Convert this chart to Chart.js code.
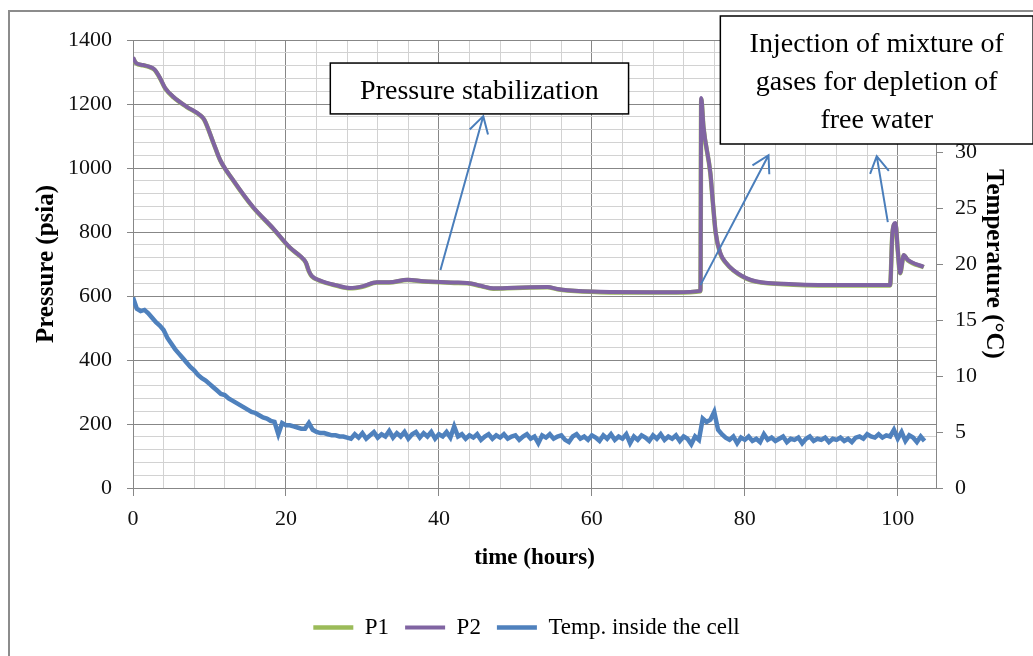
<!DOCTYPE html>
<html>
<head>
<meta charset="utf-8">
<script src="https://cdn.jsdelivr.net/npm/chart.js@4.4.0/dist/chart.umd.min.js"></script>
<style>
  html, body { margin: 0; padding: 0; background: #fff; }
  #wrap { width: 1033px; height: 656px; }
</style>
</head>
<body>
<div id="wrap"><canvas id="chart" width="1033" height="656"></canvas></div>
<script>
// time (hours) and pressures (psia)
const pressHours = [0, 0.4, 1.3, 2.2, 2.8, 3.5, 4.2, 5.3, 7, 8.8,
    9.3, 10.5, 11.4, 13.1, 15.7, 18.3, 20.5, 22, 22.6, 23,
    23.4, 24.5, 26.5, 28.4, 30, 31.9, 33.5, 35.9, 38, 40.2,
    42, 43.7, 45.5, 47.1, 50, 54.2, 55.5, 56.8, 61.1, 67.7,
    71, 74.2, 74.3, 74.6, 75.5, 75.8, 76.2, 76.8, 77.5, 78.5,
    80.8, 85.1, 91.6, 99, 99.3, 99.7, 100, 100.3, 100.8, 101.3,
    103.4];
const p1Values = [1343, 1327, 1321, 1315, 1307, 1282, 1249, 1221, 1191, 1164,
    1151, 1079, 1024, 961, 877, 811, 751, 721, 704, 677,
    661, 647, 633, 624, 629, 642, 642, 650, 645, 643,
    641, 640, 631, 623, 625, 627, 621, 617, 612, 611,
    611, 615, 1215, 1125, 982, 898, 795, 732, 704, 680,
    649, 637, 633, 633, 795, 826, 742, 671, 727, 712,
    690];
const p2Values = [1345, 1328, 1322, 1316, 1308, 1283, 1250, 1222, 1192, 1165,
    1152, 1080, 1025, 962, 878, 812, 752, 722, 705, 678,
    662, 648, 634, 625, 630, 643, 643, 651, 646, 644,
    642, 641, 632, 624, 626, 628, 622, 618, 613, 612,
    612, 616, 1219, 1128, 984, 900, 797, 734, 705, 681,
    650, 638, 634, 634, 797, 828, 744, 672, 728, 713,
    691];

// temperature inside the cell (°C), one reading every half hour from t = 0
const tempStep = 0.5;
const tempValues = [
    17.0, 16.0, 15.8, 15.9, 15.6, 15.2, 14.8, 14.5, 14.1, 13.4,
    12.9, 12.4, 12.0, 11.6, 11.2, 10.8, 10.5, 10.1, 9.8, 9.6,
    9.3, 9.0, 8.7, 8.4, 8.3, 8.0, 7.8, 7.6, 7.4, 7.2,
    7.0, 6.8, 6.7, 6.5, 6.3, 6.2, 6.0, 5.9, 4.8, 5.8,
    5.6, 5.6, 5.5, 5.4, 5.3, 5.3, 5.8, 5.2, 5.0, 4.9,
    4.9, 4.8, 4.7, 4.7, 4.6, 4.6, 4.5, 4.4, 4.8, 4.5,
    4.9, 4.4, 4.7, 5.0, 4.5, 4.8, 4.6, 5.1, 4.5, 4.9,
    4.6, 5.0, 4.4, 4.8, 5.0, 4.5, 4.9, 4.6, 5.0, 4.4,
    4.8, 4.6, 5.0, 4.5, 5.5, 4.6, 4.8, 4.4, 4.7, 4.5,
    4.8, 4.3, 4.6, 4.8, 4.4, 4.7, 4.5, 4.8, 4.4, 4.6,
    4.7, 4.3, 4.6, 4.8, 4.4, 4.6, 4.0, 4.7, 4.5, 4.8,
    4.4, 4.6, 4.7, 4.3, 4.1, 4.6, 4.8, 4.4, 4.6, 4.3,
    4.7, 4.5, 4.2, 4.7, 4.4, 4.8, 4.3, 4.6, 4.4, 4.8,
    4.0, 4.6, 4.3, 4.7, 4.5, 4.2, 4.7, 4.4, 4.8, 4.3,
    4.6, 4.4, 4.7, 4.2, 4.6, 4.4, 3.9, 4.6, 4.3, 6.2,
    5.9, 6.1, 6.8, 5.2, 4.8, 4.5, 4.3, 4.6, 4.0, 4.5,
    4.3, 4.6, 4.2, 4.4, 4.1, 4.8, 4.3, 4.5, 4.2, 4.4,
    4.6, 4.1, 4.4, 4.3, 4.5, 4.0, 4.4, 4.6, 4.2, 4.4,
    4.3, 4.5, 4.1, 4.4, 4.3, 4.5, 4.2, 4.4, 4.1, 4.5,
    4.6, 4.4, 4.8, 4.6, 4.5, 4.8, 4.5, 4.7, 4.6, 5.2,
    4.4, 5.0, 4.2, 4.7, 4.5, 4.1, 4.6, 4.2
];

const xLabelTicks = [0, 20, 40, 60, 80, 100];
const pressLabelTicks = [0, 200, 400, 600, 800, 1000, 1200, 1400];
const legendNames = ['P1', 'P2', 'Temp. inside the cell'];

// text boxes and arrows, placed in data units (hours, psia)
const noteBoxes = [
    { x1: 25.8, x2: 64.8, y1: 1328, y2: 1169, lines: ['Pressure stabilization'] },
    { x1: 76.8, x2: 117.7, y1: 1475, y2: 1075, lines: ['Injection of mixture of', 'gases for depletion of', 'free water'] }
];
const noteArrows = [
    { from: [40.2, 681], to: [45.8, 1162] },
    { from: [74.2, 634], to: [83.1, 1040] },
    { from: [98.7, 831], to: [97.25, 1037] }
];

const SERIF = "'Liberation Serif', 'Times New Roman', serif";
const MAJOR = '#878787';
const MINOR = '#d2d2d2';
const CLEAR = 'rgba(0,0,0,0)';

Chart.defaults.font.family = SERIF;
Chart.defaults.color = '#000';

const pairs = (xs, ys) => ys.map((v, i) => ({ x: xs[i], y: v }));
const tempData = tempValues.map((v, i) => ({ x: i * tempStep, y: v }));

function drawArrow(ctx, x1, y1, x2, y2) {
    const ang = Math.atan2(y2 - y1, x2 - x1);
    const len = 19, spread = Math.PI / 6;
    ctx.beginPath();
    ctx.moveTo(x1, y1);
    ctx.lineTo(x2, y2);
    ctx.moveTo(x2 - len * Math.cos(ang - spread), y2 - len * Math.sin(ang - spread));
    ctx.lineTo(x2, y2);
    ctx.lineTo(x2 - len * Math.cos(ang + spread), y2 - len * Math.sin(ang + spread));
    ctx.stroke();
}

const notesPlugin = {
    id: 'notes',
    afterDraw(chart) {
        const { ctx, scales: { x, y } } = chart;
        ctx.save();

        // outer frame of the figure
        ctx.strokeStyle = '#8c8c8c';
        ctx.lineWidth = 2;
        ctx.strokeRect(9, 11, 1040, 670);

        // arrows
        ctx.strokeStyle = '#4a7ebb';
        ctx.lineWidth = 2;
        noteArrows.forEach(a => {
            drawArrow(ctx,
                x.getPixelForValue(a.from[0]), y.getPixelForValue(a.from[1]),
                x.getPixelForValue(a.to[0]), y.getPixelForValue(a.to[1]));
        });

        // boxes
        ctx.font = '28px ' + SERIF;
        ctx.textAlign = 'center';
        ctx.textBaseline = 'alphabetic';
        noteBoxes.forEach(b => {
            const left = x.getPixelForValue(b.x1), right = x.getPixelForValue(b.x2);
            const top = y.getPixelForValue(b.y1), bottom = y.getPixelForValue(b.y2);
            ctx.fillStyle = '#fff';
            ctx.fillRect(left, top, right - left, bottom - top);
            ctx.strokeStyle = '#000';
            ctx.lineWidth = 1.5;
            ctx.strokeRect(left, top, right - left, bottom - top);
            ctx.fillStyle = '#000';
            b.lines.forEach((t, i) => {
                ctx.fillText(t, (left + right) / 2, top + 36 + i * 38);
            });
        });
        ctx.restore();
    }
};

new Chart(document.getElementById('chart'), {
    type: 'line',
    data: {
        datasets: [
            {
                label: legendNames[0],
                data: pairs(pressHours, p1Values),
                borderColor: '#9bbb59',
                backgroundColor: '#9bbb59',
                borderWidth: 4.5,
                pointRadius: 0,
                cubicInterpolationMode: 'monotone',
                yAxisID: 'y',
                order: 1
            },
            {
                label: legendNames[1],
                data: pairs(pressHours, p2Values),
                borderColor: '#8064a2',
                backgroundColor: '#8064a2',
                borderWidth: 4,
                pointRadius: 0,
                cubicInterpolationMode: 'monotone',
                yAxisID: 'y',
                order: 0
            },
            {
                label: legendNames[2],
                data: tempData,
                borderColor: '#4f81bd',
                backgroundColor: '#4f81bd',
                borderWidth: 4.5,
                pointRadius: 0,
                tension: 0,
                yAxisID: 'yT',
                order: 2
            }
        ]
    },
    options: {
        responsive: false,
        animation: false,
        devicePixelRatio: 1,
        layout: { padding: { left: 20, right: 0, top: 40, bottom: 7 } },
        plugins: {
            legend: {
                position: 'bottom',
                labels: {
                    usePointStyle: true,
                    pointStyle: 'line',
                    pointStyleWidth: 40,
                    padding: 16,
                    color: '#000',
                    font: { size: 23, family: SERIF },
                    sort: (a, b) => a.datasetIndex - b.datasetIndex
                }
            },
            tooltip: { enabled: false }
        },
        scales: {
            x: {
                type: 'linear',
                min: 0,
                max: 105,
                afterFit: s => { s.height = 112; },
                ticks: {
                    stepSize: 4,
                    autoSkip: false,
                    maxRotation: 0,
                    padding: 10,
                    color: '#111',
                    font: { size: 22 },
                    callback: v => xLabelTicks.includes(v) ? v : ''
                },
                grid: {
                    color: c => xLabelTicks.includes(c.tick.value) ? MAJOR : MINOR,
                    tickColor: c => xLabelTicks.includes(c.tick.value) ? MAJOR : CLEAR,
                    tickLength: 8
                },
                border: { color: MAJOR, width: 1 },
                title: {
                    display: true,
                    text: 'time (hours)',
                    color: '#000',
                    font: { size: 23, weight: 'bold' },
                    padding: { top: 4, bottom: 28 }
                }
            },
            y: {
                position: 'left',
                min: 0,
                max: 1400,
                afterFit: s => { s.width = 113; },
                ticks: {
                    stepSize: 40,
                    autoSkip: false,
                    padding: 15,
                    color: '#111',
                    font: { size: 22 },
                    callback: v => pressLabelTicks.includes(v) ? v : ''
                },
                grid: {
                    color: c => pressLabelTicks.includes(c.tick.value) ? MAJOR : MINOR,
                    tickColor: c => pressLabelTicks.includes(c.tick.value) ? MAJOR : CLEAR,
                    tickLength: 6
                },
                border: { color: MAJOR, width: 1 },
                title: {
                    display: true,
                    text: 'Pressure (psia)',
                    color: '#000',
                    font: { size: 25, weight: 'bold' },
                    padding: { top: 12, bottom: 0 }
                }
            },
            yT: {
                position: 'right',
                min: 0,
                max: 40,
                afterFit: s => { s.width = 97; },
                ticks: {
                    stepSize: 5,
                    autoSkip: false,
                    padding: 12,
                    color: '#111',
                    font: { size: 22 }
                },
                grid: {
                    drawOnChartArea: false,
                    tickColor: MAJOR,
                    tickLength: 7
                },
                border: { color: MAJOR, width: 1 },
                title: {
                    display: true,
                    text: 'Temperature (°C)',
                    color: '#000',
                    font: { size: 25, weight: 'bold' },
                    padding: { top: 25, bottom: 0 }
                }
            }
        }
    },
    plugins: [notesPlugin]
});
</script>
</body>
</html>
